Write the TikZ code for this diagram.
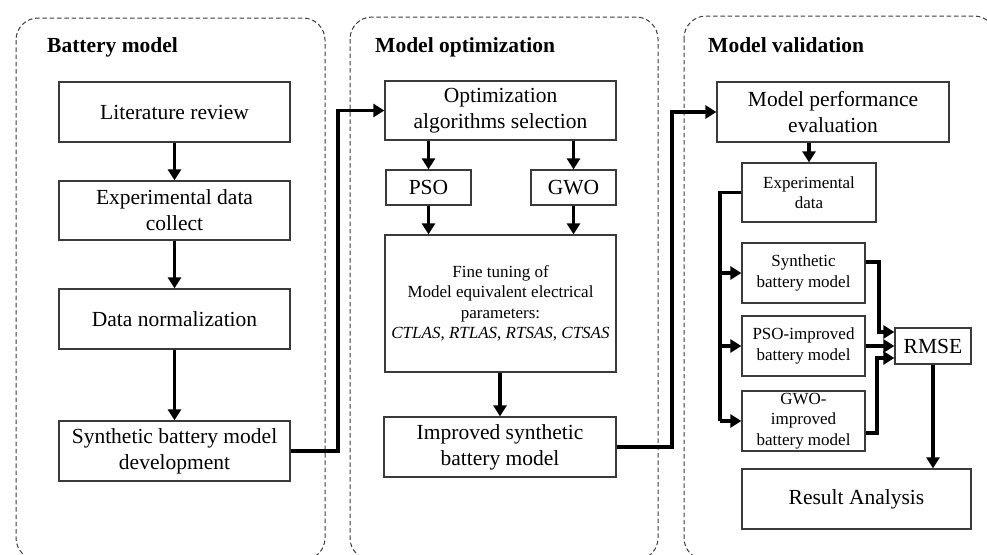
\documentclass[tikz,border=0pt]{standalone}
\usepackage{fontspec}
\setmainfont{Liberation Serif}
\usetikzlibrary{arrows.meta,calc}

\definecolor{boxline}{HTML}{3A3A3A}
\definecolor{panelline}{HTML}{3C3C3C}
\newcommand\mainsz{\fontsize{21.5}{26}\selectfont}
\newcommand\smallsz{\fontsize{17}{20.5}\selectfont}
\newcommand\titlesz{\fontsize{21.5}{26}\selectfont\bfseries}

\tikzset{
  panel/.style={draw=panelline, line width=1pt, dash pattern=on 4.5pt off 2.8pt, rounded corners=22pt},
  paneltitle/.style={anchor=base west, inner sep=0pt, font=\titlesz},
  bigbox/.style={draw=boxline, line width=1.3pt, align=center, inner sep=0pt, font=\mainsz},
  smallbox/.style={draw=boxline, line width=1.3pt, align=center, inner sep=0pt, font=\smallsz},
  conn/.style={line width=3.4pt, line join=miter, -{Triangle[length=11pt,width=13pt]}},
  wire/.style={line width=3.4pt, line join=miter},
}

\begin{document}
\begin{tikzpicture}[x=1pt,y=-1pt]
\useasboundingbox (0,0) rectangle (987,554);
\clip (0,0) rectangle (987,554);

% dashed stage panels
\draw[panel] (16,18) rectangle (325,560);
\draw[panel] (350,17) rectangle (658,560);
\draw[panel] (684,16) rectangle (996,560);

\node[paneltitle] (t1) at (47,52) {Battery model};
\node[paneltitle] (t2) at (375,52) {Model optimization};
\node[paneltitle] (t3) at (708,52) {Model validation};

% stage 1: battery model
\node[bigbox, minimum width=231pt, minimum height=60pt] (lit) at (174.5,112) {Literature review};
\node[bigbox, minimum width=231pt, minimum height=59pt] (expc) at (174.5,210.5) {Experimental data\\collect};
\node[bigbox, minimum width=231pt, minimum height=60pt] (norm) at (174.5,319) {Data normalization};
\node[bigbox, minimum width=231pt, minimum height=60pt] (sdev) at (174.5,451) {Synthetic battery model\\development};

% stage 2: model optimization
\node[bigbox, minimum width=231pt, minimum height=59pt] (opt) at (500.5,110.5) {Optimization\\algorithms selection};
\node[bigbox, minimum width=85pt, minimum height=35pt] (pso) at (428.5,187.5) {PSO};
\node[bigbox, minimum width=85pt, minimum height=35pt] (gwo) at (573.5,187.5) {GWO};
\node[smallbox, minimum width=231pt, minimum height=137pt] (fine) at (500.5,303.5)
  {Fine tuning of\\Model equivalent electrical\\parameters:\\\textit{CTLAS}, \textit{RTLAS}, \textit{RTSAS}, \textit{CTSAS}};
\node[bigbox, minimum width=232pt, minimum height=60pt] (imp) at (500,447) {Improved synthetic\\battery model};

% stage 3: model validation
\node[bigbox, minimum width=232pt, minimum height=60pt] (mpe) at (833,112) {Model performance\\evaluation};
\node[smallbox, minimum width=134pt, minimum height=59pt] (expd) at (809,192.5) {Experimental\\data};
\node[smallbox, minimum width=123pt, minimum height=60pt] (syn) at (803.5,273) {Synthetic\\battery model};
\node[smallbox, minimum width=123pt, minimum height=60pt] (psoi) at (803.5,346) {PSO-improved\\battery model};
\node[smallbox, minimum width=123pt, minimum height=60pt] (gwoi) at (803.5,421) {GWO-\\improved\\battery model};
\node[bigbox, minimum width=76pt, minimum height=36pt] (rmse) at (933,346) {RMSE};
\node[bigbox, minimum width=229pt, minimum height=60pt] (res) at (856.5,499) {Result Analysis};

% routing columns
\coordinate (j1) at (338,0);
\coordinate (j2) at (672,0);
\coordinate (j3) at (720,0);
\coordinate (j4) at (879,0);
\coordinate (j5) at (877,0);

% stage 1 flow
\draw[conn] (lit.south) -- (expc.north);
\draw[conn] (expc.south) -- (norm.north);
\draw[conn] (norm.south) -- (sdev.north);
\draw[conn] (sdev.east) -| (j1 |- opt.west) -- (opt.west);

% stage 2 flow
\draw[conn] (pso.north |- opt.south) -- (pso.north);
\draw[conn] (gwo.north |- opt.south) -- (gwo.north);
\draw[conn] (pso.south) -- (pso.south |- fine.north);
\draw[conn] (gwo.south) -- (gwo.south |- fine.north);
\draw[conn] (fine.south -| imp.north) -- (imp.north);
\draw[conn] (imp.east) -| (j2 |- mpe.west) -- (mpe.west);

% stage 3 flow
\draw[conn] (expd.north |- mpe.south) -- (expd.north);
\draw[wire] (expd.west) -| (j3 |- gwoi.west);
\draw[conn] (j3 |- syn.west) -- (syn.west);
\draw[conn] (j3 |- psoi.west) -- (psoi.west);
\draw[conn] (j3 |- gwoi.west) -- (gwoi.west);
\draw[conn] ($(syn.east)+(0,-11)$) -| ($(j4 |- rmse.west)+(0,-14)$) -- ($(rmse.west)+(0,-14)$);
\draw[conn] (psoi.east) -- (rmse.west);
\draw[conn] ($(gwoi.east)+(0,12)$) -| ($(j5 |- rmse.west)+(0,12)$) -- ($(rmse.west)+(0,12)$);
\draw[conn] (rmse.south) -- (rmse.south |- res.north);
\end{tikzpicture}
\end{document}
